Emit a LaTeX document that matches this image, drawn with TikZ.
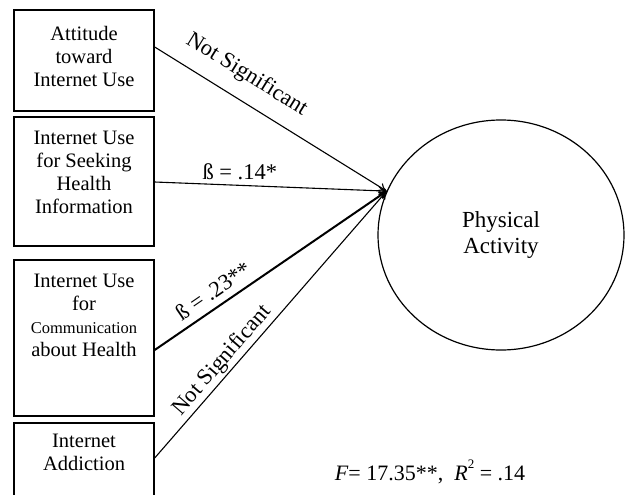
\documentclass[tikz,border=0pt]{standalone}
\usepackage{fontspec}
\setmainfont{Liberation Serif}
\usetikzlibrary{arrows.meta,shapes.geometric}
\begin{document}
\begin{tikzpicture}[x=1pt,y=-1pt,
  varbox/.style={draw,line width=1.4pt,minimum width=140pt,inner sep=0pt},
  boxtext/.style={anchor=north,inner sep=0pt,align=center,font=\fontsize{20.5}{23}\selectfont},
  path/.style={line width=1.1pt,-{To[length=8pt,width=9pt]}},
  strong/.style={line width=2pt,-{To[length=8pt,width=9pt]}},
  lbl/.style={font=\fontsize{22.5}{24}\selectfont,inner sep=0pt}]
  \useasboundingbox (0,0) rectangle (629,495);
  \begin{scope}
    \clip (0,0) rectangle (629,495);
    % predictor boxes
    \node[varbox,minimum height=101pt] (b1) at (84,60.5) {};
    \node[varbox,minimum height=129pt] (b2) at (84,181.5) {};
    \node[varbox,minimum height=156pt] (b3) at (84,338) {};
    \node[varbox,minimum height=95pt] (b4) at (84,470.5) {};
  \end{scope}
  \node[boxtext] (t1) at ([yshift=-17pt]b1.north) {Attitude\\toward\\Internet Use};
  \node[boxtext] (t2) at ([yshift=-15pt]b2.north) {Internet Use\\for Seeking\\Health\\Information};
  \node[boxtext] (t3) at ([yshift=-15pt]b3.north) {Internet Use\\for\\{\fontsize{16.5}{23}\selectfont Communication}\\about Health};
  \node[boxtext] (t4) at ([yshift=-12pt]b4.north) {Internet\\Addiction};
  % outcome
  \node[draw,ellipse,line width=1.2pt,minimum width=246pt,minimum height=230pt,inner sep=0pt,
        align=center,font=\fontsize{23}{27}\selectfont] (pa) at (501,235) {Physical\\Activity};
  \coordinate (tip) at (pa.159);
  % paths (yshift acts on the canvas: positive is upwards)
  \coordinate (s1) at ([yshift=13.5pt]b1.east);
  \coordinate (s2) at ([yshift=-0.5pt]b2.east);
  \coordinate (s3) at ([yshift=-12pt]b3.east);
  \coordinate (s4) at ([yshift=12.5pt]b4.east);
  \draw[path] (s1) -- node[lbl,sloped,pos=0.34,above=14pt] (l1) {Not Significant} (tip);
  \draw[path] (s2) -- node[lbl,pos=0.367,above=5pt] (l2) {ß = .14*} (tip);
  \draw[strong] (s3) -- node[lbl,sloped,pos=0.29,above=7pt] (l3) {ß = .23**} (tip);
  \draw[path] (s4) -- node[lbl,sloped,pos=0.333,above=2pt] (l4) {Not Significant} (tip);
  % model fit
  \node[font=\fontsize{22}{26}\selectfont,inner sep=0pt] (fit) at (430,472)
    {\textit{F}= 17.35**,\ \ \textit{R}\raisebox{1.2ex}{\fontsize{13}{13}\selectfont 2} = .14};
\end{tikzpicture}
\end{document}
